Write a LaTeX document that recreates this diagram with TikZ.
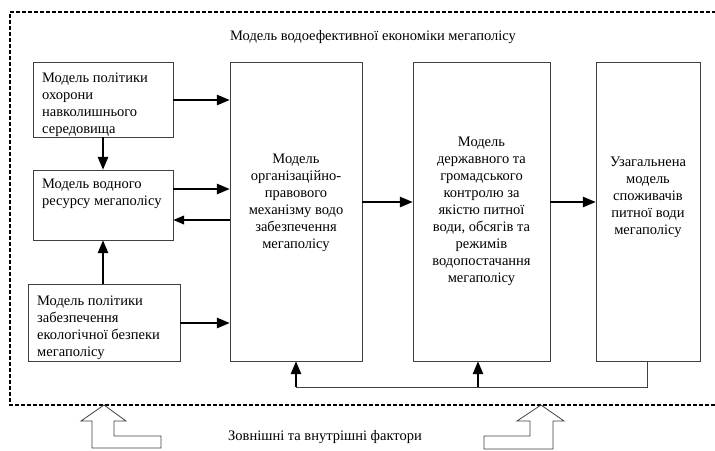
\documentclass[tikz,border=0pt]{standalone}
\usepackage{fontspec}
\setmainfont{Liberation Serif}
\usetikzlibrary{arrows,positioning,calc}
\tikzstyle{block}=[draw=black!75,line width=0.8pt,rectangle,inner sep=0pt]
\tikzstyle{txt}=[font=\fontsize{14.5}{17}\selectfont,inner sep=0pt]
\tikzstyle{arrow}=[-triangle 45,line width=2pt,black]
\tikzstyle{back}=[draw=black!75,line width=0.8pt]

\begin{document}
\begin{tikzpicture}[x=1pt,y=-1pt]
\useasboundingbox (0,0) rectangle (715,450);
% frame
\draw[line width=1.1pt,dash pattern=on 4pt off 2pt] (716,12) -- (10,12) -- (10,405) -- (716,405);
\node[txt] (title) at (373,37) {Модель водоефективної економіки мегаполісу};
% left column
\node [block,minimum width=140,minimum height=75] (okhorona) at (103,99.5) {};
\node [txt,align=left,anchor=north west] (okhorona-t) at (42,73)
	{Модель політики\\охорони\\навколишнього\\середовища};
\node [block,minimum width=140,minimum height=70] (resurs) at (103,205) {};
\node [txt,align=left,anchor=north west] (resurs-t) at (42,179)
	{Модель водного\\ресурсу мегаполісу};
\node [block,minimum width=152,minimum height=77] (bezpeka) at (104,322.5) {};
\node [txt,align=left,anchor=north west] (bezpeka-t) at (37,296)
	{Модель політики\\забезпечення\\екологічної безпеки\\мегаполісу};
% right part
\node [block,minimum width=132,minimum height=299] (orgmekh) at (296,211.5) {};
\node [txt,align=center] (orgmekh-t) at (296,203)
	{Модель\\організаційно-\\правового\\механізму водо\\забезпечення\\мегаполісу};
\node [block,minimum width=137,minimum height=299] (kontrol) at (481.5,211.5) {};
\node [txt,align=center] (kontrol-t) at (481.5,211)
	{Модель\\державного та\\громадського\\контролю за\\якістю питної\\води, обсягів та\\режимів\\водопостачання\\мегаполісу};
\node [block,minimum width=104,minimum height=299] (spozh) at (648,211.5) {};
\node [txt,align=center] (spozh-t) at (648,197)
	{Узагальнена\\модель\\споживачів\\питної води\\мегаполісу};
% arrows
\draw [arrow] (okhorona.east |- 0,100) -- (orgmekh.west |- 0,100);
\draw [arrow] (okhorona.south) -- (resurs.north);
\draw [arrow] (resurs.east |- 0,189) -- (orgmekh.west |- 0,189);
\draw [-triangle 45,line width=1.5pt] (orgmekh.west |- 0,220) -- (resurs.east |- 0,220);
\draw [arrow] (bezpeka.north -| resurs.south) -- (resurs.south);
\draw [arrow] (bezpeka.east |- 0,323) -- (orgmekh.west |- 0,323);
\draw [arrow] (orgmekh.east |- 0,202) -- (kontrol.west |- 0,202);
\draw [arrow] (kontrol.east |- 0,202) -- (spozh.west |- 0,202);
% feedback
\coordinate (fb) at (647,387);
\draw [back] (spozh.south -| fb) -- (fb) -- (296,387);
\draw [arrow] (296,387) -- (orgmekh.south);
\draw [arrow] (478,387) -- (kontrol.south -| 478,0);
% factors
\draw [draw=black!75,line width=0.8pt] (92,448) -- (92,421) -- (81,421) -- (104,405) -- (126,421)
	-- (114,421) -- (114,436) -- (161,436) -- (161,448) -- cycle;
\draw [draw=black!75,line width=0.8pt] (553,449) -- (553,421) -- (564,421) -- (541,405) -- (517,421)
	-- (530,421) -- (530,436) -- (484,436) -- (484,449) -- cycle;
\node[txt] (factors) at (325,437) {Зовнішні та внутрішні фактори};
\end{tikzpicture}
\end{document}
